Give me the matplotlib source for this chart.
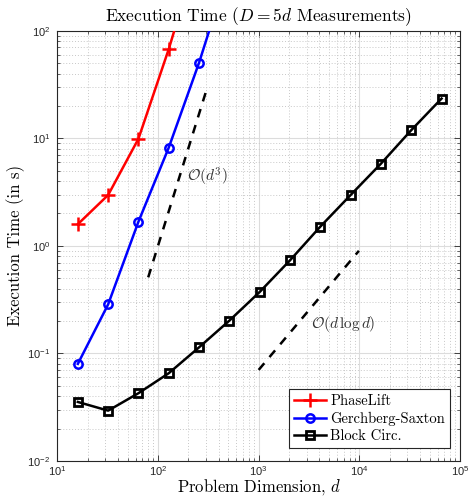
import matplotlib
matplotlib.use("Agg")
import matplotlib.pyplot as plt
from matplotlib.ticker import LogLocator, NullFormatter

# ---- data ----
dims_pl = [16, 32, 64, 128, 256]
time_pl = [1.59, 2.97, 9.9, 67.6, 575]

dims_gs = [16, 32, 64, 128, 256, 512]
time_gs = [0.080, 0.286, 1.68, 8.2, 50.5, 390]

dims_bc = [16, 32, 64, 128, 256, 512, 1024, 2048, 4096, 8192, 16384, 32768, 65536]
time_bc = [0.0354, 0.0294, 0.0427, 0.0655, 0.114, 0.202, 0.373, 0.734, 1.51,
           2.97, 5.81, 11.9, 23.4]

ref_d3_x = [80, 298]
ref_d3_y = [0.51, 26.7]
ref_dlogd_x = [1000, 9900]
ref_dlogd_y = [0.0703, 0.90]

series_labels = ["PhaseLift", "Gerchberg-Saxton", "Block Circ."]

plt.rcParams['mathtext.fontset'] = 'cm'
plt.rcParams['axes.unicode_minus'] = False

fig = plt.figure(figsize=(4.68, 4.97), dpi=100)
ax = fig.add_axes([0.1224, 0.0724, 0.8606, 0.8658])

serif = dict(family='cmr10', math_fontfamily='cm')

ax.plot(dims_pl, time_pl, color='#ff0000', lw=1.8, marker='+', ms=10, mew=1.8,
        label=series_labels[0], zorder=3)
ax.plot(dims_gs, time_gs, color='#0000ff', lw=1.8, marker='o', ms=6, mew=1.8,
        mfc='none', label=series_labels[1], zorder=3)
ax.plot(dims_bc, time_bc, color='black', lw=1.8, marker='s', ms=5.5, mew=2.0,
        mfc='none', label=series_labels[2], zorder=3)

ax.plot(ref_d3_x, ref_d3_y, color='black', lw=1.8, ls=(0, (3.5, 3.2)), zorder=3)
ax.plot(ref_dlogd_x, ref_dlogd_y, color='black', lw=1.8, ls=(0, (3.5, 3.2)), zorder=3)

ax.text(193, 4.37, r'$\mathcal{O}(d^3)$', fontsize=11, va='center', ha='left',
        color='#333333', **serif)
ax.text(3300, 0.188, r'$\mathcal{O}(d\,\log d)$', fontsize=11, va='center', ha='left',
        color='#333333', **serif)

ax.set_xscale('log')
ax.set_yscale('log')
ax.set_xlim(10, 1e5)
ax.set_ylim(1e-2, 1e2)

ax.xaxis.set_major_locator(LogLocator(base=10, numticks=10))
ax.yaxis.set_major_locator(LogLocator(base=10, numticks=10))
ax.xaxis.set_minor_locator(LogLocator(base=10, subs=range(2, 10), numticks=20))
ax.yaxis.set_minor_locator(LogLocator(base=10, subs=range(2, 10), numticks=20))
ax.xaxis.set_minor_formatter(NullFormatter())
ax.yaxis.set_minor_formatter(NullFormatter())

ax.grid(True, which='major', color='#dcdcdc', lw=0.8, ls='-')
ax.grid(True, which='minor', color='#c8c8c8', lw=0.7, ls=(0, (1, 2)))
ax.set_axisbelow(True)

ax.tick_params(which='both', direction='in', top=True, right=True, colors='#262626',
               labelsize=8)
ax.tick_params(which='major', length=4, width=0.6)
ax.tick_params(axis='x', which='major', pad=2)
ax.tick_params(axis='y', which='major', pad=5)
ax.tick_params(which='minor', length=2.5, width=0.5)
for lab in ax.get_xticklabels() + ax.get_yticklabels():
    lab.set_family('Liberation Sans')
for s in ax.spines.values():
    s.set_color('#262626')
    s.set_linewidth(0.8)

ax.set_title(r'Execution Time ($D = 5d$ Measurements)', fontsize=12.5, pad=7, **serif)
ax.set_xlabel(r'Problem Dimension, $d$', fontsize=12, labelpad=-0.5, **serif)
ax.set_ylabel('Execution Time (in s)', fontsize=12, labelpad=2, **serif)

leg = ax.legend(loc='lower right', bbox_to_anchor=(0.975, 0.03),
                prop=dict(family='cmr10', size=10.5),
                fancybox=False, framealpha=1, edgecolor='#262626',
                handlelength=2.2, handletextpad=0.3, borderpad=0.35,
                labelspacing=0.25, borderaxespad=0)
leg.get_frame().set_linewidth(0.8)

fig.savefig('out.png', dpi=100)
